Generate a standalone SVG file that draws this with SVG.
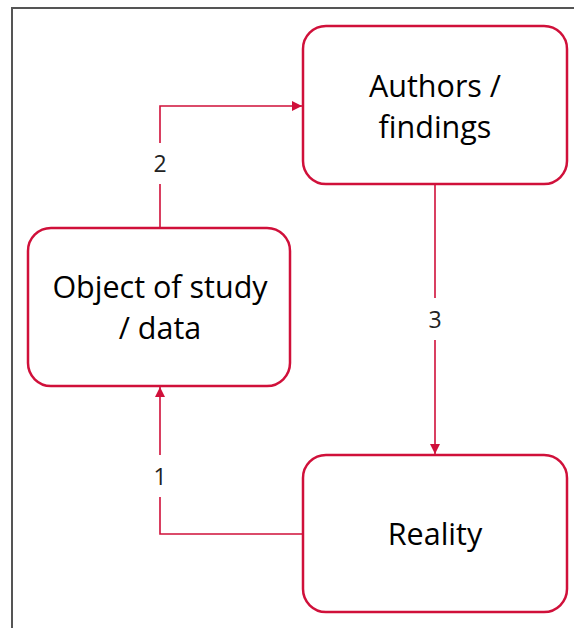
<svg xmlns="http://www.w3.org/2000/svg" width="574" height="628" viewBox="0 0 574 628">
<style>
.box{fill:#fff;stroke:#D0103A;stroke-width:2.5}
.lbl{font-family:"Open Sans","Noto Sans",sans-serif;font-size:30.5px;fill:#000;text-anchor:middle}
.num{font-family:"Open Sans","Noto Sans",sans-serif;font-size:23px;fill:#222;text-anchor:middle}
.con{fill:none;stroke:#D0103A;stroke-width:1.6}
</style>
<defs>
<marker id="ah" markerWidth="10" markerHeight="10" refX="10" refY="5" orient="auto" markerUnits="userSpaceOnUse">
<path d="M0,0 L10,5 L0,10 Z" fill="#D0103A"/>
</marker>
</defs>
<rect width="574" height="628" fill="#fff"/>
<path d="M12,628 V8 H574" fill="none" stroke="#555" stroke-width="2"/>
<g id="connectors">
<path class="con" d="M160,228 V106 H302" marker-end="url(#ah)"/>
<path class="con" d="M435,184 V454" marker-end="url(#ah)"/>
<path class="con" d="M303,534 H160 V387" marker-end="url(#ah)"/>
<rect x="148" y="143" width="24" height="41" fill="#fff"/>
<text class="num" x="160" y="172">2</text>
<rect x="423" y="298" width="24" height="42" fill="#fff"/>
<text class="num" x="435" y="328">3</text>
<rect x="148" y="455" width="24" height="42" fill="#fff"/>
<text class="num" x="160" y="485">1</text>
</g>
<g id="authors">
<rect class="box" x="303" y="26" width="264" height="158" rx="23"/>
<text class="lbl" x="435" y="97">Authors /</text>
<text class="lbl" x="435" y="138">findings</text>
</g>
<g id="object">
<rect class="box" x="28" y="228" width="262" height="158" rx="23"/>
<text class="lbl" x="160" y="298">Object of study</text>
<text class="lbl" x="160" y="339">/ data</text>
</g>
<g id="reality">
<rect class="box" x="303" y="455" width="264" height="157" rx="23"/>
<text class="lbl" x="435" y="545">Reality</text>
</g>
</svg>
